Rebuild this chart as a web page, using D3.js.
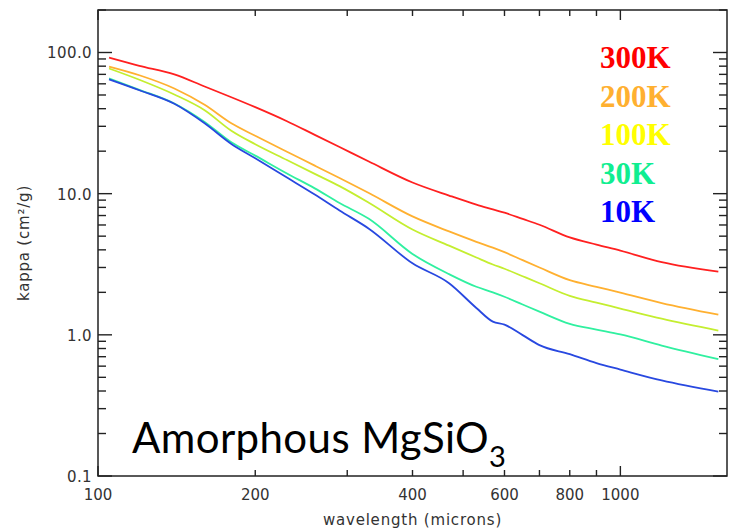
<!DOCTYPE html>
<html><head><meta charset="utf-8">
<script src="https://cdn.jsdelivr.net/npm/d3@7"></script>
<style>body{margin:0;background:#fff;} svg{display:block;}</style>
</head><body>
<svg id="chart" width="729" height="530"></svg>
<script>
// ---- data ----
const wavelengths = [105,120,140,160,180,200,230,260,290,330,400,470,530,570,600,650,700,800,900,1000,1200,1540];
const kappa300K = [92,80.5,70,57.4,48.2,41,32.6,26.1,21.4,16.9,12.0,9.7,8.37,7.74,7.33,6.62,6.02,4.9,4.36,3.95,3.27,2.8];
const kappa200K = [79.5,69,55.6,42.6,31.5,25.7,19.8,15.8,12.9,10.1,6.9,5.4,4.56,4.15,3.85,3.38,3.0,2.44,2.19,1.99,1.68,1.39];
const kappa100K = [77,64.1,50.4,39,27.9,22.4,17.3,13.8,11.3,8.62,5.57,4.28,3.53,3.15,2.94,2.6,2.32,1.886,1.69,1.536,1.3,1.07];
const kappa30K  = [65.5,54.4,43.5,32.2,23.1,18.6,13.9,10.9,8.58,6.63,3.74,2.69,2.19,2.0,1.86,1.64,1.46,1.196,1.09,1.006,0.84,0.673];
const kappa10K  = [64.5,54,43.3,31.5,22.5,17.8,13.0,9.86,7.6,5.65,3.21,2.32,1.55,1.24,1.18,0.995,0.845,0.729,0.63,0.567,0.475,0.396];
const seriesNames = ["300K","200K","100K","30K","10K"];
const lineColors  = ["#ff2020","#ffb030","#c4ee30","#30f0a0","#2848e0"];
const labelColors = ["#ff0000","#ffb030","#ffff00","#10ee90","#0000ff"];
const xTickValues = [100,200,400,600,800,1000];
const xMinorTicks = [200,300,400,500,600,700,800,900];
const xMajorTicks = [100,1000];
const yTickValues = [0.1,1,10,100];
const yTickLabels = ["0.1","1.0","10.0","100.0"];
const xDomain = [100,1600];
const yDomain = [0.1,200];

const seriesValues = [kappa300K,kappa200K,kappa100K,kappa30K,kappa10K];

// ---- layout ----
const svg = d3.select("#chart");
const L = 98, R = 727, T = 10, B = 476;
const x = d3.scaleLog().domain(xDomain).range([L,R]);
const y = d3.scaleLog().domain(yDomain).range([B,T]);
const axisColor = "#222";

// minor y ticks
const yMinor = [];
for (let d=0.1; d<100; d*=10) for (let k=2;k<=9;k++) yMinor.push(+(d*k).toPrecision(3));
yMinor.push(200);

const g = svg.append("g");

// frame
g.append("rect").attr("x",L).attr("y",T).attr("width",R-L).attr("height",B-T)
 .attr("fill","none").attr("stroke",axisColor).attr("stroke-width",1.5);

// x ticks bottom & top
function xTicks(vals,len){
  vals.forEach(v=>{
    g.append("line").attr("x1",x(v)).attr("x2",x(v)).attr("y1",B).attr("y2",B-len).attr("stroke",axisColor).attr("stroke-width",1.4);
    g.append("line").attr("x1",x(v)).attr("x2",x(v)).attr("y1",T).attr("y2",T+len).attr("stroke",axisColor).attr("stroke-width",1.4);
  });
}
xTicks(xMinorTicks,6);
xTicks(xMajorTicks,10);
function yTicks(vals,len){
  vals.forEach(v=>{
    if (v<yDomain[0]||v>yDomain[1]) return;
    g.append("line").attr("x1",L).attr("x2",L+len).attr("y1",y(v)).attr("y2",y(v)).attr("stroke",axisColor).attr("stroke-width",1.4);
    g.append("line").attr("x1",R).attr("x2",R-len).attr("y1",y(v)).attr("y2",y(v)).attr("stroke",axisColor).attr("stroke-width",1.4);
  });
}
yTicks(yMinor,8);
yTicks(yTickValues,14);

// tick labels
const tickFont = "'DejaVu Sans', sans-serif";
g.selectAll(".xl").data(xTickValues).enter().append("text")
 .attr("x",d=>x(d)).attr("y",500).attr("text-anchor","middle")
 .attr("font-family",tickFont).attr("font-size",15).attr("fill","#333")
 .text(d=>d);
g.selectAll(".yl").data(yTickValues).enter().append("text")
 .attr("x",L-6).attr("y",d=>y(d)+6).attr("text-anchor","end")
 .attr("font-family",tickFont).attr("font-size",15).attr("letter-spacing",0.4).attr("fill","#333")
 .text((d,i)=>yTickLabels[i]);

// axis titles
g.append("text").attr("x",(L+R)/2).attr("y",525).attr("text-anchor","middle")
 .attr("font-family",tickFont).attr("font-size",15).attr("letter-spacing",0.8).attr("fill","#333")
 .text("wavelength (microns)");
g.append("text").attr("transform",`translate(29,${(T+B)/2}) rotate(-90)`).attr("text-anchor","middle")
 .attr("font-family",tickFont).attr("font-size",15).attr("letter-spacing",0.8).attr("fill","#333")
 .text("kappa (cm²/g)");

// lines
const line = d3.line().x(d=>x(d[0])).y(d=>y(d[1])).curve(d3.curveMonotoneX);
seriesValues.forEach((vals,i)=>{
  g.append("path").datum(wavelengths.map((w,j)=>[w,vals[j]]))
   .attr("d",line).attr("fill","none").attr("stroke",lineColors[i]).attr("stroke-width",1.8)
   .attr("stroke-linejoin","round");
});

// legend
seriesNames.forEach((n,i)=>{
  g.append("text").attr("x",600).attr("y",68+i*38.6)
   .attr("font-family","'Liberation Serif', 'Times New Roman', serif").attr("font-weight","bold")
   .attr("font-size",31).attr("fill",labelColors[i]).text(n);
});

// title annotation
const t = g.append("text").attr("x",132).attr("y",453)
 .attr("font-family","Lato, 'Open Sans', sans-serif").attr("font-size",42).attr("letter-spacing",0.4).attr("fill","#000");
t.append("tspan").text("Amorphous MgSiO");
t.append("tspan").attr("font-size",29).attr("dy",14).text("3");
</script>
</body></html>
